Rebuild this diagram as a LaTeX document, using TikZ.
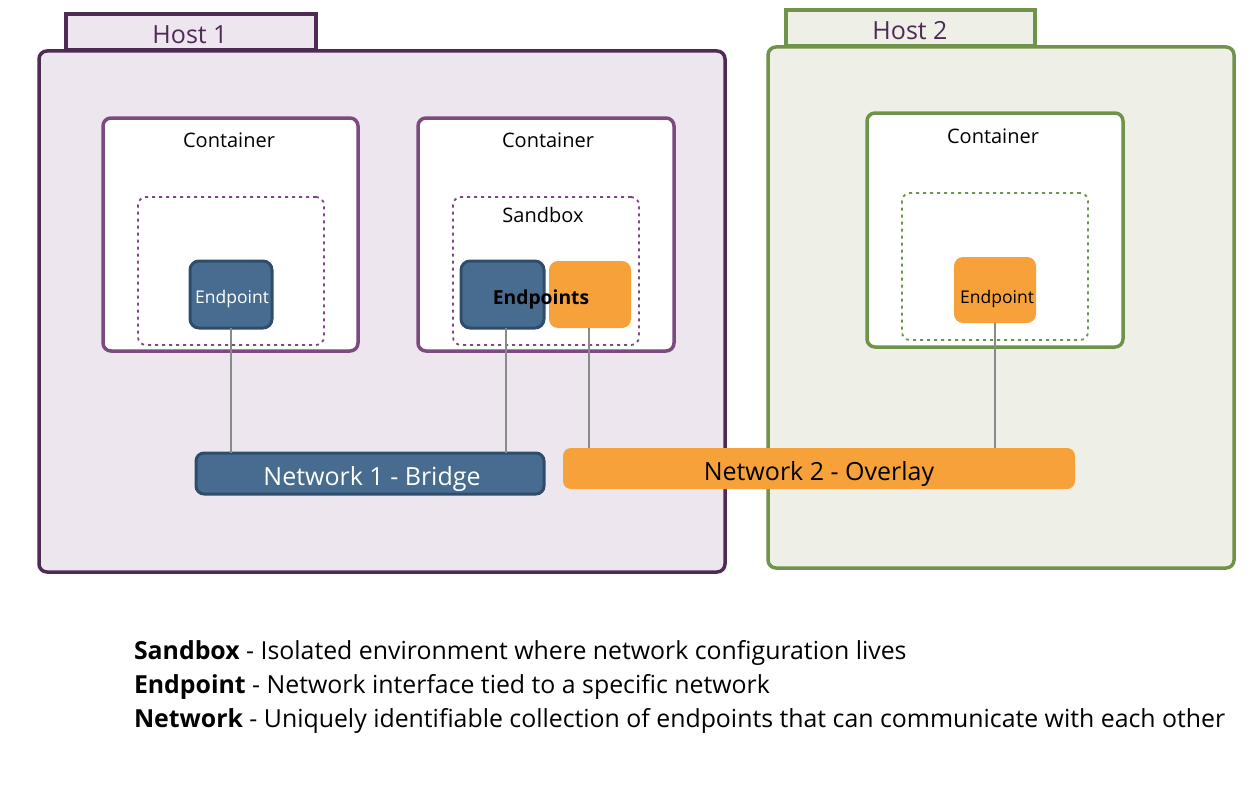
\documentclass[tikz,border=0pt]{standalone}
\usepackage{fontspec}
\setmainfont{Open Sans}
\definecolor{hostpurple}{HTML}{4E2B55}
\definecolor{hostpurplefill}{HTML}{EEE6EE}
\definecolor{contpurple}{HTML}{7B4A7F}
\definecolor{hostgreen}{HTML}{6F9449}
\definecolor{hostgreenfill}{HTML}{EEF0E7}
\definecolor{epblue}{HTML}{476C8F}
\definecolor{epbluedark}{HTML}{2F4D6A}
\definecolor{eporange}{HTML}{F7A13A}
\definecolor{linkgray}{HTML}{8A8A8A}
\tikzset{
  every node/.style={inner sep=0pt, outer sep=0pt},
  hosttab/.style={draw=#1, line width=3.5pt, rectangle},
  hostlbl/.style={font=\fontsize{25}{28}\selectfont, text=hostpurple},
  hostbox/.style={draw=#1, line width=3.5pt, rectangle, rounded corners=8pt},
  contbox/.style={draw=#1, fill=white, line width=3.5pt, rectangle, rounded corners=8pt},
  sandboxbox/.style={draw=#1, line width=1.8pt, dash pattern=on 3pt off 4pt, rectangle, rounded corners=8pt},
  lbl/.style={font=\fontsize{20}{24}\selectfont},
  eplbl/.style={font=\fontsize{17.5}{20}\selectfont},
  epblue/.style={draw=epbluedark, fill=epblue, line width=3pt, rounded corners=9pt, rectangle},
  eporange/.style={fill=eporange, rounded corners=9pt, rectangle},
  netlbl/.style={font=\fontsize{25}{28}\selectfont},
  link/.style={draw=linkgray, line width=2pt},
  legend/.style={anchor=base west, font=\fontsize{24.85}{28}\selectfont}
}
\begin{document}
\begin{tikzpicture}[x=1pt,y=-1pt]
\useasboundingbox (0,0) rectangle (1253,800);
% Host 1
\node[hosttab=hostpurple, fill=hostpurplefill, minimum width=250pt, minimum height=36pt] (tab1) at (191,32) {};
\node[hostlbl] (tab1lbl) at (190,35) {Host 1};
\node[hostbox=hostpurple, fill=hostpurplefill, minimum width=686pt, minimum height=521pt] (host1) at (382,311.5) {};
% Host 2
\node[hosttab=hostgreen, fill=hostgreenfill, minimum width=249pt, minimum height=36pt] (tab2) at (910.5,28) {};
\node[hostlbl] (tab2lbl) at (910,31) {Host 2};
\node[hostbox=hostgreen, fill=hostgreenfill, minimum width=466pt, minimum height=521pt] (host2) at (1001,307.5) {};
% Containers
\node[contbox=contpurple, minimum width=255pt, minimum height=233pt] (cont1) at (230.5,234.5) {};
\node[lbl] (cont1lbl) at (229,140) {Container};
\node[contbox=contpurple, minimum width=256pt, minimum height=233pt] (cont2) at (546,234.5) {};
\node[lbl] (cont2lbl) at (548,140) {Container};
\node[contbox=hostgreen, minimum width=256pt, minimum height=234pt] (cont3) at (995,230) {};
\node[lbl] (cont3lbl) at (993,136) {Container};
% Sandboxes
\node[sandboxbox=contpurple, minimum width=186pt, minimum height=148pt] (sb1) at (231,271) {};
\node[sandboxbox=contpurple, minimum width=186pt, minimum height=148pt] (sb2) at (546,271) {};
\node[lbl] (sb2lbl) at (543,215) {Sandbox};
\node[sandboxbox=hostgreen, minimum width=186pt, minimum height=147pt] (sb3) at (995,266.5) {};
% Endpoints
\node[epblue, minimum width=82pt, minimum height=67pt] (ep1) at (231,294.5) {};
\node[eplbl, text=white] (ep1lbl) at (232,298.5) {Endpoint};
\node[epblue, minimum width=83pt, minimum height=67pt] (ep2b) at (502.5,294.5) {};
\node[eporange, minimum width=82pt, minimum height=67pt] (ep2o) at (590,294.5) {};
\node[font=\bfseries\fontsize{19.3}{22}\selectfont] (ep2lbl) at (541,299.5) {Endpoints};
\node[eporange, minimum width=82pt, minimum height=66pt] (ep3) at (995,290) {};
\node[eplbl] (ep3lbl) at (997,298.5) {Endpoint};
% Networks
\node[epblue, rounded corners=8pt, minimum width=348pt, minimum height=41pt] (net1) at (370,473.5) {};
\node[netlbl, text=white] (net1lbl) at (372,479.5) {Network 1 - Bridge};
\node[eporange, rounded corners=8pt, minimum width=512pt, minimum height=41pt] (net2) at (819,468.5) {};
\node[netlbl] (net2lbl) at (819,474.5) {Network 2 - Overlay};
% Links
\draw[link] (ep1.south) -- (ep1.south |- net1.north);
\draw[link] ([xshift=3.5pt]ep2b.south) -- ([xshift=3.5pt]ep2b.south |- net1.north);
\draw[link] ([xshift=-1pt]ep2o.south) -- ([xshift=-1pt]ep2o.south |- net2.north);
\draw[link] (ep3.south) -- (ep3.south |- net2.north);
% Legend
\node[legend] (leg1) at (134,659) {\textbf{Sandbox} - Isolated environment where network configuration lives};
\node[legend] (leg2) at (134,693) {\textbf{Endpoint} - Network interface tied to a specific network};
\node[legend] (leg3) at (134,727) {\textbf{Network} - Uniquely identifiable collection of endpoints that can communicate with each other};
\end{tikzpicture}
\end{document}
